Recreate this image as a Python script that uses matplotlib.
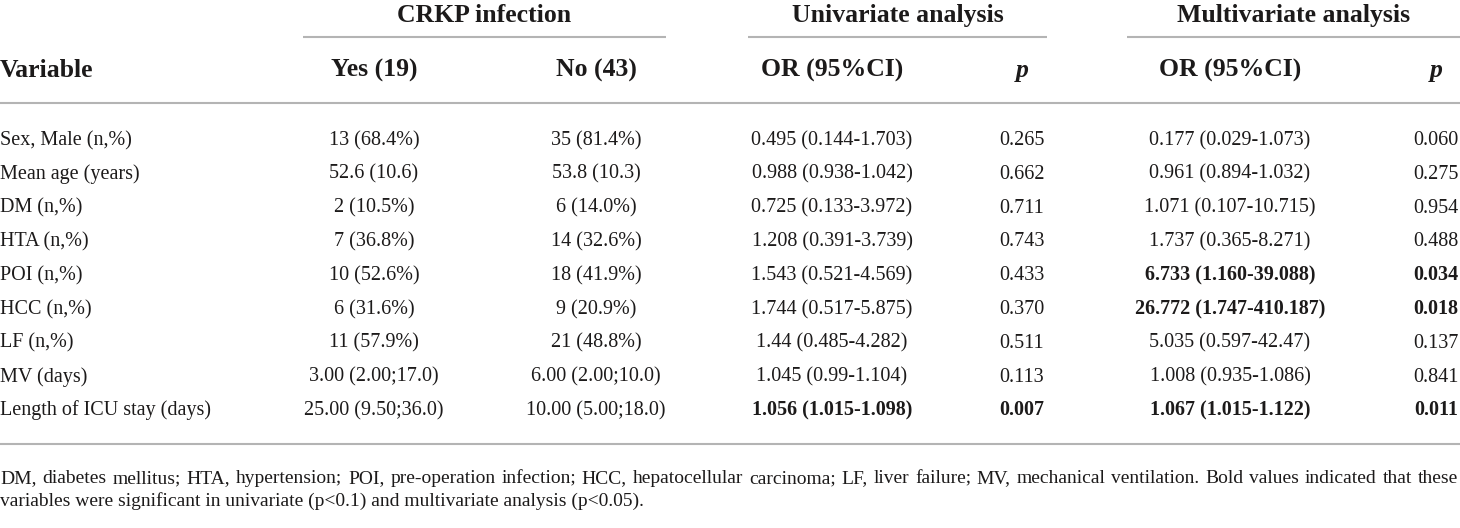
import matplotlib
matplotlib.use('Agg')
import matplotlib.pyplot as plt

plt.rcParams['font.family'] = ['Liberation Serif', 'DejaVu Serif']

# table content
variables = ['Sex, Male (n,%)', 'Mean age (years)', 'DM (n,%)', 'HTA (n,%)', 'POI (n,%)',
             'HCC (n,%)', 'LF (n,%)', 'MV (days)', 'Length of ICU stay (days)']
crkp_yes = ['13 (68.4%)', '52.6 (10.6)', '2 (10.5%)', '7 (36.8%)', '10 (52.6%)',
            '6 (31.6%)', '11 (57.9%)', '3.00 (2.00;17.0)', '25.00 (9.50;36.0)']
crkp_no = ['35 (81.4%)', '53.8 (10.3)', '6 (14.0%)', '14 (32.6%)', '18 (41.9%)',
           '9 (20.9%)', '21 (48.8%)', '6.00 (2.00;10.0)', '10.00 (5.00;18.0)']
uni_or = ['0.495 (0.144-1.703)', '0.988 (0.938-1.042)', '0.725 (0.133-3.972)',
          '1.208 (0.391-3.739)', '1.543 (0.521-4.569)', '1.744 (0.517-5.875)',
          '1.44 (0.485-4.282)', '1.045 (0.99-1.104)', '1.056 (1.015-1.098)']
uni_p = ['0.265', '0.662', '0.711', '0.743', '0.433', '0.370', '0.511', '0.113', '0.007']
multi_or = ['0.177 (0.029-1.073)', '0.961 (0.894-1.032)', '1.071 (0.107-10.715)',
            '1.737 (0.365-8.271)', '6.733 (1.160-39.088)', '26.772 (1.747-410.187)',
            '5.035 (0.597-42.47)', '1.008 (0.935-1.086)', '1.067 (1.015-1.122)']
multi_p = ['0.060', '0.275', '0.954', '0.488', '0.034', '0.018', '0.137', '0.841', '0.011']
uni_bold = [False] * 8 + [True]
multi_bold = [False, False, False, False, True, True, False, False, True]

groups = ['CRKP infection', 'Univariate analysis', 'Multivariate analysis']
col_heads = ['Yes (19)', 'No (43)', 'OR (95%CI)', 'p', 'OR (95%CI)', 'p']
footnote1 = ('DM, diabetes mellitus; HTA, hypertension; POI, pre-operation infection; HCC, '
             'hepatocellular carcinoma; LF, liver failure; MV, mechanical ventilation. '
             'Bold values indicated that these')
footnote2 = 'variables were significant in univariate (p<0.1) and multivariate analysis (p<0.05).'

W, H = 1460, 528
fig = plt.figure(figsize=(W / 100, H / 100), dpi=100)
ax = fig.add_axes([0, 0, 1, 1])
ax.set_xlim(0, W)
ax.set_ylim(H, 0)
ax.axis('off')

ink = '#1c1a1a'
rule = '#b4b4b4'
body = 14.5
foot = 14
head = 18.5

col_x = [374, 596, 832, 1022, 1230, 1436]
group_span = [(303, 666), (748, 1047), (1127, 1460)]
row_y0, row_dy = 139, 33.8

# group headers and their underlines
for name, (a, b) in zip(groups, group_span):
    ax.text((a + b) / 2, 22, name, ha='center', va='baseline', fontsize=head,
            fontweight='bold', color=ink)
    ax.plot([a, b], [37, 37], color=rule, lw=1.5, solid_capstyle='butt')

# column headers
ax.text(0, 77, 'Variable', ha='left', va='baseline', fontsize=head, fontweight='bold', color=ink)
for x, h in zip(col_x, col_heads):
    style = 'italic' if h == 'p' else 'normal'
    ax.text(x, 77, h, ha='center', va='baseline', fontsize=head, fontweight='bold',
            fontstyle=style, color=ink)
ax.plot([0, W], [103, 103], color=rule, lw=1.5, solid_capstyle='butt')

# body rows
for i in range(len(variables)):
    y = row_y0 + i * row_dy + 6
    ax.text(0, y, variables[i], ha='left', va='baseline', fontsize=body, color=ink)
    cells = [(crkp_yes[i], False), (crkp_no[i], False), (uni_or[i], uni_bold[i]),
             (uni_p[i], uni_bold[i]), (multi_or[i], multi_bold[i]), (multi_p[i], multi_bold[i])]
    for x, (txt, b) in zip(col_x, cells):
        ax.text(x, y, txt, ha='center', va='baseline', fontsize=body, color=ink,
                fontweight='bold' if b else 'normal')
ax.plot([0, W], [444, 444], color=rule, lw=1.5, solid_capstyle='butt')

# footnote, first line justified: natural word positions plus even extra spacing
fig.canvas.draw()
r = fig.canvas.get_renderer()
probe = ax.text(0, 0, '', fontsize=foot)
fp = probe.get_fontproperties()
probe.remove()


def tw(s):
    return r.get_text_width_height_descent(s, fp, ismath=False)[0]


words = footnote1.split(' ')
full = tw(footnote1)
extra = (W - 2 - full) / (len(words) - 1)
for i, w in enumerate(words):
    start = tw(' '.join(words[:i]) + ' ') if i else 0
    ax.text(start + i * extra, 483, w, ha='left', va='baseline', fontsize=foot, color=ink)
ax.text(0, 506, footnote2, ha='left', va='baseline', fontsize=foot, color=ink)

fig.savefig('out.png', dpi=100)
